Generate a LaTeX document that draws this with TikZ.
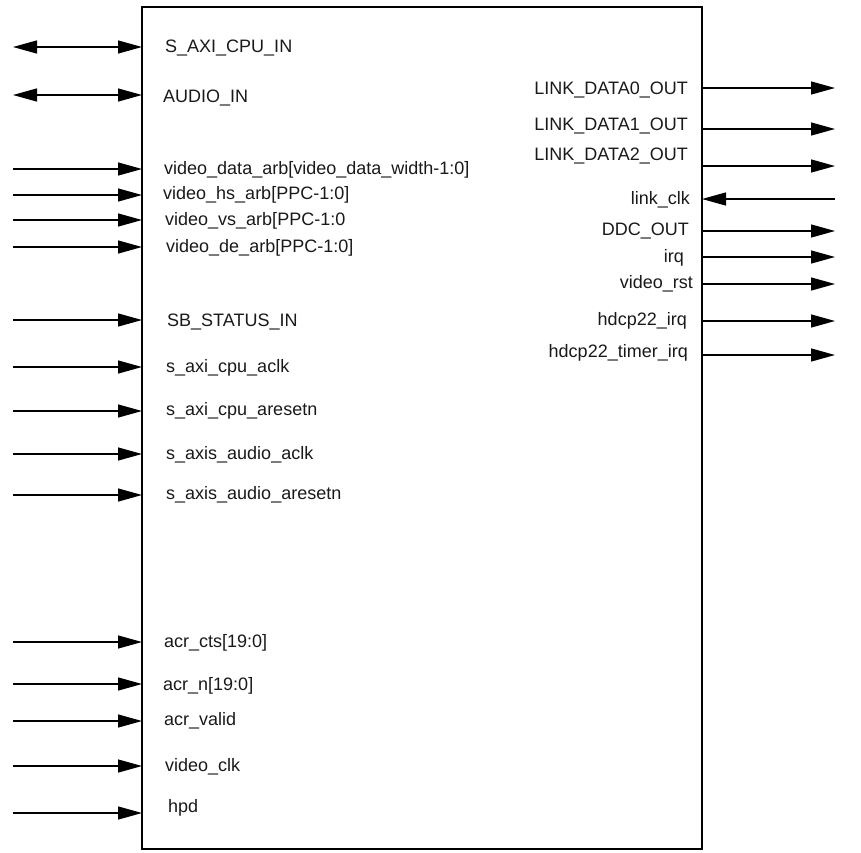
\documentclass[tikz,border=0pt]{standalone}
\usepackage{fontspec}
\setmainfont{Liberation Sans}
\usetikzlibrary{arrows.meta}
\tikzset{
  pin/.style={line width=1.3pt, -{Triangle[length=24pt,width=13pt]}},
  bipin/.style={line width=1.3pt, {Triangle[length=24pt,width=13pt]}-{Triangle[length=24pt,width=13pt]}},
  lbl/.style={font=\fontsize{18}{21}\selectfont, inner sep=0pt, text=black!90},
  inlbl/.style={lbl, anchor=west},
  outlbl/.style={lbl, anchor=east},
}
\begin{document}
\begin{tikzpicture}[x=1pt,y=-1pt]
    \useasboundingbox (0,0) rectangle (861,852);
    % Core block
    \draw[line width=2.6pt] (142,7) rectangle (702,849);

    % Bidirectional ports
    \coordinate (saxi-ext) at (13,47);  \coordinate (saxi) at (142,47);
    \draw[bipin] (saxi-ext) -- (saxi);
    \node[inlbl] (saxi-lbl) at (165,48) {S\_AXI\_CPU\_IN};
    \coordinate (audio-ext) at (13,95); \coordinate (audio) at (142,95);
    \draw[bipin] (audio-ext) -- (audio);
    \node[inlbl] (audio-lbl) at (163,98) {AUDIO\_IN};

    % Video inputs
    \coordinate (vdata-ext) at (13,169); \coordinate (vdata) at (142,169);
    \draw[pin] (vdata-ext) -- (vdata);
    \node[inlbl] (vdata-lbl) at (164,170) {video\_data\_arb[video\_data\_width-1:0]};
    \coordinate (vhs-ext) at (13,195); \coordinate (vhs) at (142,195);
    \draw[pin] (vhs-ext) -- (vhs);
    \node[inlbl] (vhs-lbl) at (163,195) {video\_hs\_arb[PPC-1:0]};
    \coordinate (vvs-ext) at (13,220); \coordinate (vvs) at (142,220);
    \draw[pin] (vvs-ext) -- (vvs);
    \node[inlbl] (vvs-lbl) at (165,221) {video\_vs\_arb[PPC-1:0};
    \coordinate (vde-ext) at (13,247); \coordinate (vde) at (142,247);
    \draw[pin] (vde-ext) -- (vde);
    \node[inlbl] (vde-lbl) at (166,248) {video\_de\_arb[PPC-1:0]};

    % Status, clocks and resets
    \coordinate (sb-ext) at (13,320); \coordinate (sb) at (142,320);
    \draw[pin] (sb-ext) -- (sb);
    \node[inlbl] (sb-lbl) at (167,322) {SB\_STATUS\_IN};
    \coordinate (cpuclk-ext) at (13,367); \coordinate (cpuclk) at (142,367);
    \draw[pin] (cpuclk-ext) -- (cpuclk);
    \node[inlbl] (cpuclk-lbl) at (166,368) {s\_axi\_cpu\_aclk};
    \coordinate (cpurst-ext) at (13,411); \coordinate (cpurst) at (142,411);
    \draw[pin] (cpurst-ext) -- (cpurst);
    \node[inlbl] (cpurst-lbl) at (166,411) {s\_axi\_cpu\_aresetn};
    \coordinate (audclk-ext) at (13,454); \coordinate (audclk) at (142,454);
    \draw[pin] (audclk-ext) -- (audclk);
    \node[inlbl] (audclk-lbl) at (166,455) {s\_axis\_audio\_aclk};
    \coordinate (audrst-ext) at (13,495); \coordinate (audrst) at (142,495);
    \draw[pin] (audrst-ext) -- (audrst);
    \node[inlbl] (audrst-lbl) at (166,495) {s\_axis\_audio\_aresetn};

    % Audio clock regeneration and misc inputs
    \coordinate (cts-ext) at (13,642); \coordinate (cts) at (142,642);
    \draw[pin] (cts-ext) -- (cts);
    \node[inlbl] (cts-lbl) at (164,643) {acr\_cts[19:0]};
    \coordinate (acrn-ext) at (13,684); \coordinate (acrn) at (142,684);
    \draw[pin] (acrn-ext) -- (acrn);
    \node[inlbl] (acrn-lbl) at (163,686) {acr\_n[19:0]};
    \coordinate (valid-ext) at (13,721); \coordinate (valid) at (142,721);
    \draw[pin] (valid-ext) -- (valid);
    \node[inlbl] (valid-lbl) at (164,721) {acr\_valid};
    \coordinate (vclk-ext) at (13,766); \coordinate (vclk) at (142,766);
    \draw[pin] (vclk-ext) -- (vclk);
    \node[inlbl] (vclk-lbl) at (165,767) {video\_clk};
    \coordinate (hpd-ext) at (13,813); \coordinate (hpd) at (142,813);
    \draw[pin] (hpd-ext) -- (hpd);
    \node[inlbl] (hpd-lbl) at (168,808) {hpd};

    % Link outputs
    \coordinate (ld0) at (702,88); \coordinate (ld0-ext) at (835,88);
    \draw[pin] (ld0) -- (ld0-ext);
    \node[outlbl] (ld0-lbl) at (688,90) {LINK\_DATA0\_OUT};
    \coordinate (ld1) at (702,129); \coordinate (ld1-ext) at (835,129);
    \draw[pin] (ld1) -- (ld1-ext);
    \node[outlbl] (ld1-lbl) at (688,126) {LINK\_DATA1\_OUT};
    \coordinate (ld2) at (702,166); \coordinate (ld2-ext) at (835,166);
    \draw[pin] (ld2) -- (ld2-ext);
    \node[outlbl] (ld2-lbl) at (688,156) {LINK\_DATA2\_OUT};
    \coordinate (lclk) at (702,199); \coordinate (lclk-ext) at (835,199);
    \draw[pin] (lclk-ext) -- (lclk);
    \node[outlbl] (lclk-lbl) at (690,200) {link\_clk};

    % Other outputs
    \coordinate (ddc) at (702,231); \coordinate (ddc-ext) at (835,231);
    \draw[pin] (ddc) -- (ddc-ext);
    \node[outlbl] (ddc-lbl) at (689,231) {DDC\_OUT};
    \coordinate (irq) at (702,257); \coordinate (irq-ext) at (835,257);
    \draw[pin] (irq) -- (irq-ext);
    \node[outlbl] (irq-lbl) at (684,258) {irq};
    \coordinate (vrst) at (702,284); \coordinate (vrst-ext) at (835,284);
    \draw[pin] (vrst) -- (vrst-ext);
    \node[outlbl] (vrst-lbl) at (693,284) {video\_rst};
    \coordinate (hirq) at (702,321); \coordinate (hirq-ext) at (835,321);
    \draw[pin] (hirq) -- (hirq-ext);
    \node[outlbl] (hirq-lbl) at (687,321) {hdcp22\_irq};
    \coordinate (htirq) at (702,355); \coordinate (htirq-ext) at (835,355);
    \draw[pin] (htirq) -- (htirq-ext);
    \node[outlbl] (htirq-lbl) at (688,353) {hdcp22\_timer\_irq};
\end{tikzpicture}
\end{document}
